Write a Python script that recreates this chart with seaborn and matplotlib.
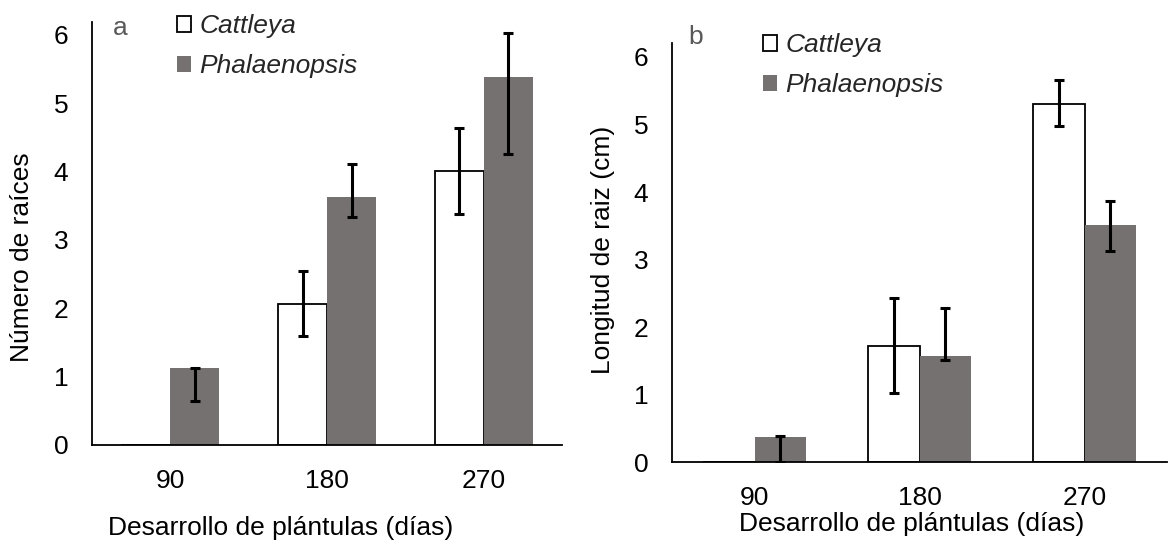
import numpy as np
import pandas as pd
import matplotlib
matplotlib.use("Agg")
import matplotlib.pyplot as plt
import seaborn as sns
from matplotlib.patches import Patch

# ---------------- data ----------------
dias = ["90", "180", "270"]
especies = ["Cattleya", "Phalaenopsis"]

# panel a: Número de raíces
raices_cattleya = [0.0, 2.06, 4.01]
raices_cattleya_lo = [0.0, 1.60, 3.38]
raices_cattleya_hi = [0.0, 2.54, 4.64]
raices_phal = [1.12, 3.63, 5.38]
raices_phal_lo = [0.64, 3.34, 4.26]
raices_phal_hi = [1.13, 4.11, 6.02]

# panel b: Longitud de raiz (cm)
long_cattleya = [0.0, 1.72, 5.31]
long_cattleya_lo = [0.0, 1.03, 4.97]
long_cattleya_hi = [0.0, 2.43, 5.66]
long_phal = [0.38, 1.57, 3.51]
long_phal_lo = [0.0, 1.51, 3.12]
long_phal_hi = [0.39, 2.28, 3.86]

yticks = [0, 1, 2, 3, 4, 5, 6]

GRAY = "#767171"
FS = 19

sns.set_theme(style="white")
plt.rcParams["font.family"] = ["Liberation Sans", "DejaVu Sans"]

fig = plt.figure(figsize=(11.71, 5.46), dpi=100)
axA = fig.add_axes([0.0786, 0.185, 0.4014, 0.7753])
axB = fig.add_axes([0.5739, 0.1533, 0.4227, 0.7685])


def make_df(c_vals, p_vals):
    rows = []
    for d, v in zip(dias, c_vals):
        rows.append({"dias": d, "valor": v, "especie": "Cattleya"})
    for d, v in zip(dias, p_vals):
        rows.append({"dias": d, "valor": v, "especie": "Phalaenopsis"})
    return pd.DataFrame(rows)


def panel(ax, c_vals, c_lo, c_hi, p_vals, p_lo, p_hi, width, ylim_top,
          ylabel, ylab_xy, xlab_xy, letter, letter_xy, leg_xy):
    df = make_df(c_vals, p_vals)
    sns.barplot(data=df, x="dias", y="valor", hue="especie", order=dias,
                hue_order=especies, palette={"Cattleya": "white", "Phalaenopsis": GRAY},
                width=width, errorbar=None, legend=False, ax=ax, saturation=1)
    # style bars
    for bar in ax.containers[0]:
        bar.set_edgecolor("black")
        bar.set_linewidth(1.3)
    for bar in ax.containers[1]:
        bar.set_edgecolor("none")
        bar.set_linewidth(0)
    # error bars
    for cont, vals, lo, hi in [(ax.containers[0], c_vals, c_lo, c_hi),
                               (ax.containers[1], p_vals, p_lo, p_hi)]:
        for bar, v, l, h in zip(cont, vals, lo, hi):
            if l == v and h == v:
                continue
            x = bar.get_x() + bar.get_width() / 2
            ax.errorbar(x, v, yerr=[[v - l], [h - v]], fmt="none", ecolor="black",
                        elinewidth=2.2, capsize=3.8, capthick=2.2, zorder=5)
    ax.set_xlim(-0.5, 2.5)
    ax.set_ylim(0, ylim_top)
    ax.set_yticks(yticks)
    ax.set_yticklabels([str(t) for t in yticks])
    ax.tick_params(axis="both", length=0, pad=17, labelsize=FS, colors="black")
    for s in ["top", "right"]:
        ax.spines[s].set_visible(False)
    for s in ["left", "bottom"]:
        ax.spines[s].set_color("black")
        ax.spines[s].set_linewidth(1.3)
    ax.set_xlabel("Desarrollo de plántulas (días)", fontsize=FS, color="black")
    ax.xaxis.set_label_coords(*xlab_xy)
    ax.xaxis.label.set_verticalalignment("center")
    ax.set_ylabel(ylabel, fontsize=FS, color="black")
    ax.yaxis.set_label_coords(*ylab_xy)
    ax.yaxis.label.set_verticalalignment("center")
    ax.text(letter_xy[0], letter_xy[1], letter, transform=ax.transAxes,
            fontsize=FS, color="#595959", ha="center", va="center")
    handles = [Patch(facecolor="white", edgecolor="black", linewidth=1.3),
               Patch(facecolor=GRAY, edgecolor="none")]
    ax.legend(handles, especies, loc="upper left", bbox_to_anchor=leg_xy,
              frameon=False, borderpad=0, borderaxespad=0, handlelength=0.55,
              handleheight=0.55, handletextpad=0.3, labelspacing=0.6,
              prop={"style": "italic", "size": FS})


panel(axA, raices_cattleya, raices_cattleya_lo, raices_cattleya_hi,
      raices_phal, raices_phal_lo, raices_phal_hi, 0.625, 6.19,
      "Número de raíces", (-0.148, 0.444), (0.401, -0.196), "a", (0.06, 0.985),
      (0.18, 1.018))
panel(axB, long_cattleya, long_cattleya_lo, long_cattleya_hi,
      long_phal, long_phal_lo, long_phal_hi, 0.62, 6.21,
      "Longitud de raiz (cm)", (-0.139, 0.506), (0.484, -0.148), "b", (0.048, 1.013),
      (0.183, 1.022))

fig.savefig("out.png", dpi=100)
